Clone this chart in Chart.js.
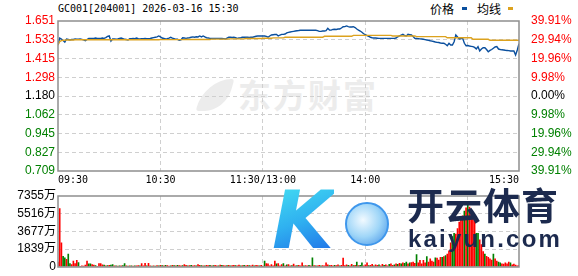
<!DOCTYPE html>
<html>
<head>
<meta charset="utf-8">
<script src="https://cdn.jsdelivr.net/npm/chart.js@4.4.1/dist/chart.umd.min.js"></script>
<style>
html, body { margin: 0; padding: 0; background: #fff; }
#wrap { position: relative; width: 578px; height: 276px; overflow: hidden; font-family: "Liberation Sans", Arial, sans-serif; }
canvas { position: absolute; left: 0; z-index: 1; }
.txt { position: absolute; white-space: nowrap; line-height: 14px; color: #000; }
#title { left: 58px; top: 2px; font: 10px "DejaVu Sans Mono", monospace; line-height: 14px; }
.cn { font-family: "Noto Sans CJK SC", sans-serif; font-size: 12px; }
.mark { position: absolute; width: 5px; height: 3px; }
#wm { position: absolute; left: 238px; top: 74px; font: bold 33px "Noto Sans CJK SC", sans-serif; color: #ececec; letter-spacing: 2px; z-index: 0; line-height: 40px; }
#wmIcon { position: absolute; left: 200px; top: 79px; width: 30px; height: 32px; background: #ececec; border-radius: 90% 10% 70% 10%; transform: skewX(-15deg); z-index: 0; }
#adK { position: absolute; left: 272px; top: 181px; font: italic bold 80px "DejaVu Sans", sans-serif; line-height: 80px;
       background: linear-gradient(160deg, #46e3f2 0%, #2fb0f0 50%, #1e64e6 100%); -webkit-background-clip: text; background-clip: text; color: transparent; z-index: 3; }
#adBall { position: absolute; left: 345px; top: 202px; width: 40px; height: 40px; border-radius: 50%; border: 2px solid #3f97ec;
          background: radial-gradient(circle at 40% 40%, #f2faff 0%, #9fd6f8 50%, #3f8fe6 100%); z-index: 3; }
#adCn { position: absolute; left: 407px; top: 182px; font: bold 37px "Noto Sans CJK SC", sans-serif; color: #1c2a4e; line-height: 44px; letter-spacing: 1px; z-index: 3; }
#adEn { position: absolute; left: 408px; top: 225px; font: bold 24px "Liberation Sans", sans-serif; color: #1c2a4e; line-height: 28px; letter-spacing: 2.2px; z-index: 3; }
</style>
</head>
<body>
<div id="wrap">
  <div id="wmIcon"></div>
  <div id="wm">东方财富</div>
  <canvas id="price" width="578" height="190" style="top:0;width:578px;height:190px"></canvas>
  <canvas id="vol" width="578" height="90" style="top:186px;width:578px;height:90px"></canvas>
  <div id="title" class="txt">GC001[204001] 2026-03-16 15:30</div>
  <div class="txt cn" style="left:430px;top:2px">价格</div>
  <div class="mark" style="left:462px;top:7px;background:#0a4f9e"></div>
  <div class="txt cn" style="left:477px;top:2px">均线</div>
  <div class="mark" style="left:508px;top:7px;background:#dca21e"></div>
  <div id="adK">K</div>
  <div id="adBall"></div>
  <div id="adCn">开云体育</div>
  <div id="adEn">kaiyun.com</div>
</div>
<script>
// one point per minute, 09:30 -> 11:30 / 13:00 -> 15:30 (271 minutes)
var price = [
  1.500,1.544,1.538,1.529,1.519,1.538,1.535,1.532,1.535,1.535,
  1.538,1.536,1.536,1.538,1.536,1.532,1.527,1.535,1.542,1.542,
  1.541,1.542,1.544,1.542,1.541,1.542,1.544,1.542,1.547,1.554,
  1.557,1.525,1.538,1.538,1.536,1.538,1.541,1.544,1.540,1.536,
  1.535,1.532,1.540,1.540,1.542,1.540,1.544,1.540,1.538,1.540,
  1.540,1.542,1.540,1.540,1.541,1.544,1.547,1.549,1.551,1.557,
  1.551,1.544,1.541,1.538,1.540,1.544,1.549,1.544,1.540,1.536,
  1.536,1.530,1.532,1.546,1.544,1.542,1.544,1.546,1.549,1.551,
  1.549,1.552,1.551,1.557,1.551,1.557,1.551,1.546,1.544,1.542,
  1.542,1.542,1.542,1.542,1.542,1.541,1.542,1.540,1.538,1.544,
  1.549,1.549,1.547,1.549,1.546,1.542,1.544,1.546,1.549,1.549,
  1.549,1.549,1.547,1.549,1.549,1.552,1.555,1.557,1.557,1.557,
  1.557,1.557,1.554,1.549,1.557,1.563,1.565,1.566,1.567,1.557,
  1.563,1.567,1.567,1.569,1.576,1.580,1.582,1.584,1.586,1.588,
  1.590,1.591,1.593,1.593,1.593,1.593,1.593,1.593,1.593,1.593,
  1.593,1.593,1.591,1.586,1.586,1.588,1.588,1.591,1.605,1.594,
  1.594,1.598,1.599,1.598,1.601,1.601,1.607,1.615,1.616,1.620,
  1.616,1.613,1.613,1.615,1.610,1.601,1.594,1.588,1.580,1.571,
  1.565,1.559,1.554,1.549,1.546,1.544,1.544,1.543,1.542,1.542,
  1.542,1.542,1.542,1.542,1.542,1.542,1.542,1.542,1.544,1.552,
  1.557,1.563,1.567,1.560,1.557,1.567,1.565,1.563,1.554,1.542,
  1.541,1.540,1.539,1.538,1.536,1.534,1.532,1.530,1.527,1.525,
  1.522,1.519,1.517,1.516,1.513,1.511,1.511,1.505,1.496,1.511,
  1.500,1.500,1.521,1.563,1.551,1.538,1.541,1.542,1.511,1.496,
  1.497,1.494,1.492,1.490,1.485,1.475,1.490,1.463,1.475,1.483,
  1.483,1.472,1.458,1.466,1.472,1.480,1.488,1.490,1.475,1.472,
  1.470,1.469,1.467,1.466,1.465,1.463,1.463,1.463,1.437,1.469,
  1.508
];
var avgLine = [
  1.500,1.522,1.528,1.530,1.531,1.532,1.532,1.532,1.532,1.532,
  1.533,1.533,1.533,1.533,1.533,1.533,1.533,1.533,1.533,1.533,
  1.533,1.533,1.533,1.533,1.533,1.533,1.533,1.533,1.533,1.533,
  1.533,1.533,1.533,1.533,1.533,1.533,1.533,1.533,1.533,1.533,
  1.533,1.533,1.533,1.533,1.533,1.533,1.533,1.533,1.533,1.533,
  1.533,1.533,1.533,1.533,1.533,1.533,1.533,1.533,1.533,1.533,
  1.534,1.534,1.534,1.534,1.534,1.534,1.534,1.534,1.534,1.534,
  1.534,1.534,1.534,1.534,1.534,1.535,1.535,1.535,1.535,1.535,
  1.535,1.535,1.535,1.535,1.535,1.535,1.535,1.535,1.535,1.535,
  1.537,1.537,1.537,1.537,1.537,1.537,1.537,1.537,1.537,1.537,
  1.539,1.539,1.539,1.539,1.539,1.539,1.539,1.539,1.539,1.539,
  1.541,1.541,1.541,1.541,1.541,1.541,1.541,1.541,1.541,1.541,
  1.543,1.543,1.543,1.543,1.543,1.543,1.545,1.545,1.545,1.545,
  1.545,1.545,1.545,1.549,1.549,1.549,1.549,1.549,1.549,1.549,
  1.549,1.549,1.549,1.549,1.549,1.549,1.549,1.549,1.549,1.549,
  1.549,1.549,1.549,1.549,1.549,1.549,1.555,1.555,1.555,1.555,
  1.555,1.555,1.555,1.555,1.555,1.555,1.555,1.555,1.555,1.555,
  1.555,1.555,1.555,1.561,1.561,1.561,1.561,1.561,1.561,1.561,
  1.561,1.561,1.561,1.561,1.561,1.561,1.561,1.561,1.561,1.561,
  1.561,1.561,1.561,1.561,1.561,1.561,1.557,1.557,1.557,1.557,
  1.557,1.557,1.557,1.557,1.557,1.557,1.557,1.557,1.557,1.557,
  1.553,1.553,1.553,1.553,1.553,1.553,1.553,1.553,1.553,1.553,
  1.553,1.553,1.553,1.553,1.553,1.553,1.553,1.553,1.546,1.546,
  1.546,1.546,1.546,1.546,1.546,1.546,1.546,1.546,1.546,1.546,
  1.546,1.546,1.546,1.536,1.536,1.536,1.536,1.536,1.536,1.536,
  1.536,1.536,1.536,1.530,1.530,1.530,1.530,1.530,1.530,1.530,
  1.530,1.530,1.530,1.530,1.530,1.530,1.530,1.530,1.530,1.530,
  1.530
];
// volume in 万, sign = direction of that minute (+ up / red, - down / green)
var volume = [
  500,6060,2485,-1090,-930,770,-1320,-330,230,600,
  330,660,-430,60,100,80,170,600,-300,-300,
  230,170,-120,60,330,330,200,-170,100,-120,
  140,-170,-230,100,-100,80,-90,100,-120,-330,
  100,-80,90,-100,80,-100,100,120,-90,330,
  100,370,-100,370,100,-80,100,-80,120,-100,
  150,-120,100,-150,120,80,-100,150,-120,100,
  -150,120,100,-120,230,150,-100,120,-150,100,
  120,-100,230,150,-120,100,-100,150,120,-150,
  100,-120,150,100,-100,170,-150,120,100,-120,
  150,-100,120,150,-120,100,170,-100,120,-150,
  100,150,-120,100,170,-100,150,120,-100,150,
  80,-600,330,300,100,230,100,600,-300,330,
  100,230,-330,100,-200,230,100,-120,270,100,
  -120,150,100,400,-100,120,100,-150,100,-920,
  120,-100,100,150,-100,120,100,400,200,-120,
  150,100,-150,120,200,-100,150,900,120,200,
  -150,100,250,-120,150,-500,120,-150,-400,100,
  200,400,-120,150,250,-100,200,150,-200,100,
  250,-150,200,100,-250,300,150,-200,300,-250,
  350,-300,400,-350,-500,300,-400,450,500,350,
  -1260,400,660,300,660,400,-1060,500,830,600,
  500,-920,900,700,990,-990,1060,-1160,1320,1650,
  2485,-3150,-3480,3400,3980,4640,4900,5300,-5800,6130,
  -6460,6200,5960,5300,4800,-3480,-3480,2800,2320,1590,
  -1320,1100,990,830,700,-1320,830,600,-500,-400,
  300,270,400,300,500,-400,200,270,170,100,
  150
];

var timeTicks = [0, 60, 120, 180, 240, 270];
var timeLabels = ['09:30', '10:30', '11:30/13:00', '14:00', '', '15:30'];
var basePrice = 1.180;
var priceTicks = [0.709, 0.827, 0.945, 1.062, 1.180, 1.298, 1.415, 1.533, 1.651];
var pctLabels = ['39.91%', '29.94%', '19.96%', '9.98%', '0.00%', '9.98%', '19.96%', '29.94%', '39.91%'];
var volTicks = [0, 1839, 3677, 5516, 7355];
var volLabels = ['0', '1839万', '3677万', '5516万', '7355万'];

var RED = '#ff0000', GREEN = '#008000', GRID = '#cfcfcf';
var numFont = { family: '"Liberation Sans", "Noto Sans CJK SC", sans-serif', size: 12 };

function tickColor(v) {
  if (Math.abs(v - basePrice) < 1e-6) return '#000';
  return v > basePrice ? RED : GREEN;
}
function innerGrid(list) {
  return function(c) { return (c.index === 0 || c.index === list.length - 1) ? 'rgba(0,0,0,0)' : GRID; };
}

var frame = {
  id: 'frame',
  afterDraw: function(chart) {
    var ctx = chart.ctx, a = chart.chartArea;
    ctx.save();
    ctx.strokeStyle = '#8e8e8e';
    ctx.lineWidth = 1.5;
    ctx.strokeRect(Math.round(a.left), Math.round(a.top), Math.round(a.right - a.left), Math.round(a.bottom - a.top));
    ctx.restore();
  }
};

function xy(arr) { return arr.map(function(v, i) { return { x: i, y: v }; }); }

new Chart(document.getElementById('price'), {
  type: 'line',
  data: {
    datasets: [
      { label: '均线', data: xy(avgLine), borderColor: '#dca21e', borderWidth: 1.4, pointRadius: 0, tension: 0 },
      { label: '价格', data: xy(price), borderColor: '#0a4f9e', borderWidth: 1.4, pointRadius: 0, tension: 0 }
    ]
  },
  options: {
    responsive: false, animation: false, events: [],
    layout: { padding: { top: 21, left: 0, right: 0, bottom: 0 } },
    plugins: { legend: { display: false }, tooltip: { enabled: false } },
    scales: {
      x: {
        type: 'linear', min: 0, max: 270, offset: false,
        afterBuildTicks: function(s) { s.ticks = timeTicks.map(function(v) { return { value: v }; }); },
        afterFit: function(s) { s.height = 19; },
        ticks: { autoSkip: false, maxRotation: 0, align: 'inner', padding: 3, color: '#000',
                 font: { family: '"DejaVu Sans Mono", monospace', size: 10 },
                 callback: function(v, i) { return timeLabels[i]; } },
        grid: { drawTicks: false, color: innerGrid(timeTicks) },
        border: { display: false, dash: [4, 3] }
      },
      y: {
        position: 'left', min: 0.709, max: 1.651,
        afterBuildTicks: function(s) { s.ticks = priceTicks.map(function(v) { return { value: v }; }); },
        afterFit: function(s) { s.width = 58; },
        ticks: { padding: 3, font: numFont, color: function(c) { return tickColor(c.tick.value); },
                 callback: function(v) { return v.toFixed(3); } },
        grid: { drawTicks: false, color: innerGrid(priceTicks) },
        border: { display: false, dash: [4, 3] }
      },
      y2: {
        position: 'right', min: 0.709, max: 1.651,
        afterBuildTicks: function(s) { s.ticks = priceTicks.map(function(v) { return { value: v }; }); },
        afterFit: function(s) { s.width = 59; },
        ticks: { padding: 4, font: numFont, color: function(c) { return tickColor(c.tick.value); },
                 callback: function(v, i) { return pctLabels[i]; } },
        grid: { display: false },
        border: { display: false }
      }
    }
  },
  plugins: [frame]
});

new Chart(document.getElementById('vol'), {
  type: 'bar',
  data: {
    datasets: [{
      label: '成交量',
      data: volume.map(function(v, i) { return { x: i, y: Math.abs(v) }; }),
      backgroundColor: volume.map(function(v) { return v >= 0 ? RED : GREEN; }),
      barThickness: 1, grouped: false
    }]
  },
  options: {
    responsive: false, animation: false, events: [],
    layout: { padding: { top: 10, left: 0, right: 59, bottom: 6 } },
    plugins: { legend: { display: false }, tooltip: { enabled: false } },
    scales: {
      x: {
        type: 'linear', min: 0, max: 270, offset: false,
        afterBuildTicks: function(s) { s.ticks = timeTicks.map(function(v) { return { value: v }; }); },
        afterFit: function(s) { s.height = 0; },
        ticks: { display: false },
        grid: { drawTicks: false, offset: false, color: innerGrid(timeTicks) },
        border: { display: false, dash: [4, 3] }
      },
      y: {
        position: 'left', min: 0, max: 7355,
        afterBuildTicks: function(s) { s.ticks = volTicks.map(function(v) { return { value: v }; }); },
        afterFit: function(s) { s.width = 58; },
        ticks: { padding: 2, font: numFont, color: '#000', callback: function(v, i) { return volLabels[i]; } },
        grid: { drawTicks: false, color: innerGrid(volTicks) },
        border: { display: false, dash: [4, 3] }
      }
    }
  },
  plugins: [frame]
});
</script>
</body>
</html>
